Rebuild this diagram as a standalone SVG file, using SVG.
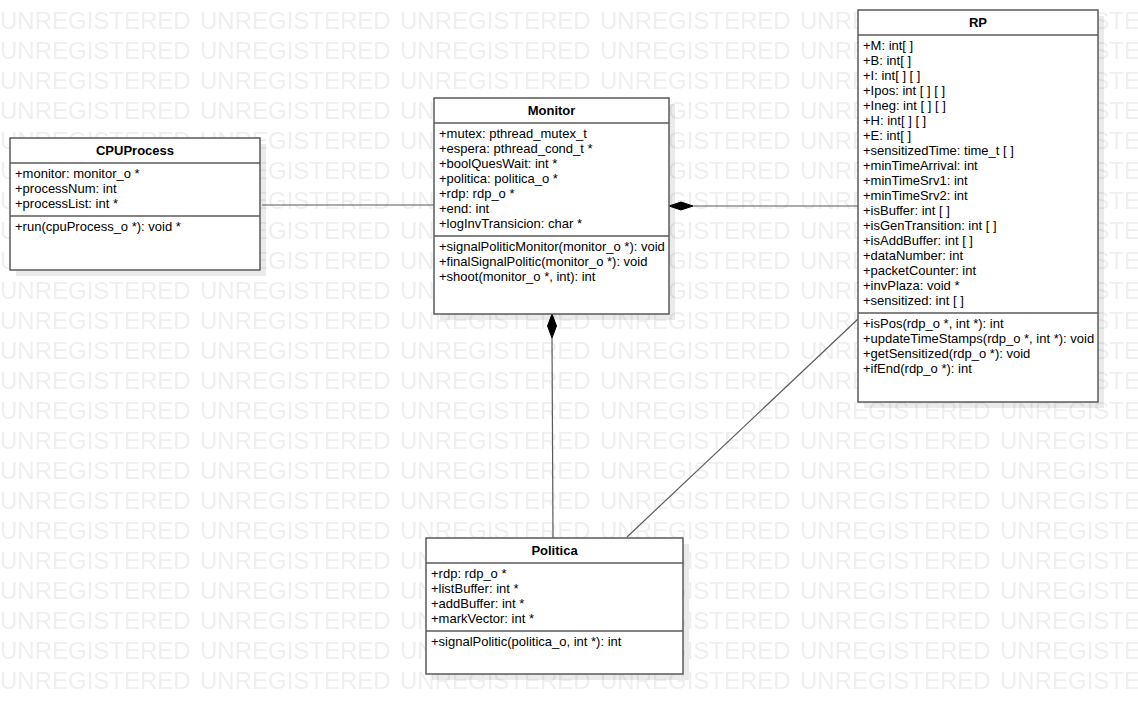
<svg xmlns="http://www.w3.org/2000/svg" width="1138" height="714" viewBox="0 0 1138 714">
<style>
.wm{font-family:"Liberation Sans",Arial,sans-serif;font-size:24px;fill:#efefef}
.t{font-family:"Liberation Sans",Arial,sans-serif;font-size:13px;fill:#000}
.h{font-family:"Liberation Sans",Arial,sans-serif;font-size:13px;font-weight:bold;fill:#000;text-anchor:middle}
.box{fill:#fff;stroke:#5a5a5a;stroke-width:1.5}
.sh{fill:#000;fill-opacity:0.08}
.sep{stroke:#5a5a5a;stroke-width:1.5}
.c{stroke:#5a5a5a;stroke-width:1.2;fill:none}
.d{fill:#000;stroke:#000;stroke-width:1}
</style>
<defs>
<pattern id="wmp" x="0" y="0" width="200" height="30" patternUnits="userSpaceOnUse">
<text class="wm" x="0" y="29">UNREGISTERED</text>
</pattern>
</defs>
<rect width="1138" height="714" fill="#fff"/>
<rect x="0" y="0" width="1138" height="700" fill="url(#wmp)"/>

<g id="connectors">
<line class="c" x1="262" y1="205" x2="434" y2="205"/>
<line class="c" x1="693" y1="206" x2="858" y2="206"/>
<polygon class="d" points="669,206 681,202 693,206 681,210"/>
<line class="c" x1="552" y1="338" x2="553" y2="538"/>
<polygon class="d" points="552,314 556.5,326 552,338 547.5,326"/>
<line class="c" x1="627" y1="537" x2="858" y2="319"/>
</g>

<g id="CPUProcess">
<rect class="sh" x="16" y="144" width="250" height="132"/>
<rect class="box" x="10" y="138" width="250" height="132"/>
<line class="sep" x1="10" y1="163" x2="260" y2="163"/>
<line class="sep" x1="10" y1="216" x2="260" y2="216"/>
<text class="h" x="135" y="155">CPUProcess</text>
<text class="t" x="15" y="178">+monitor: monitor_o *</text>
<text class="t" x="15" y="193">+processNum: int</text>
<text class="t" x="15" y="208">+processList: int *</text>
<text class="t" x="15" y="231">+run(cpuProcess_o *): void *</text>
</g>

<g id="Monitor">
<rect class="sh" x="440" y="104" width="235" height="216"/>
<rect class="box" x="434" y="98" width="235" height="216"/>
<line class="sep" x1="434" y1="123" x2="669" y2="123"/>
<line class="sep" x1="434" y1="236" x2="669" y2="236"/>
<text class="h" x="551.5" y="115">Monitor</text>
<text class="t" x="439" y="138">+mutex: pthread_mutex_t</text>
<text class="t" x="439" y="153">+espera: pthread_cond_t *</text>
<text class="t" x="439" y="168">+boolQuesWait: int *</text>
<text class="t" x="439" y="183">+politica: politica_o *</text>
<text class="t" x="439" y="198">+rdp: rdp_o *</text>
<text class="t" x="439" y="213">+end: int</text>
<text class="t" x="439" y="228">+logInvTransicion: char *</text>
<text class="t" x="439" y="251">+signalPoliticMonitor(monitor_o *): void</text>
<text class="t" x="439" y="266">+finalSignalPolitic(monitor_o *): void</text>
<text class="t" x="439" y="281">+shoot(monitor_o *, int): int</text>
</g>

<g id="RP">
<rect class="sh" x="864" y="16" width="240" height="392"/>
<rect class="box" x="858" y="10" width="240" height="392"/>
<line class="sep" x1="858" y1="35" x2="1098" y2="35"/>
<line class="sep" x1="858" y1="313" x2="1098" y2="313"/>
<text class="h" x="978" y="27">RP</text>
<text class="t" x="863" y="50">+M: int[ ]</text>
<text class="t" x="863" y="65">+B: int[ ]</text>
<text class="t" x="863" y="80">+I: int[ ] [ ]</text>
<text class="t" x="863" y="95">+Ipos: int [ ] [ ]</text>
<text class="t" x="863" y="110">+Ineg: int [ ] [ ]</text>
<text class="t" x="863" y="125">+H: int[ ] [ ]</text>
<text class="t" x="863" y="140">+E: int[ ]</text>
<text class="t" x="863" y="155">+sensitizedTime: time_t [ ]</text>
<text class="t" x="863" y="170">+minTimeArrival: int</text>
<text class="t" x="863" y="185">+minTimeSrv1: int</text>
<text class="t" x="863" y="200">+minTimeSrv2: int</text>
<text class="t" x="863" y="215">+isBuffer: int [ ]</text>
<text class="t" x="863" y="230">+isGenTransition: int [ ]</text>
<text class="t" x="863" y="245">+isAddBuffer: int [ ]</text>
<text class="t" x="863" y="260">+dataNumber: int</text>
<text class="t" x="863" y="275">+packetCounter: int</text>
<text class="t" x="863" y="290">+invPlaza: void *</text>
<text class="t" x="863" y="305">+sensitized: int [ ]</text>
<text class="t" x="863" y="328">+isPos(rdp_o *, int *): int</text>
<text class="t" x="863" y="343">+updateTimeStamps(rdp_o *, int *): void</text>
<text class="t" x="863" y="358">+getSensitized(rdp_o *): void</text>
<text class="t" x="863" y="373">+ifEnd(rdp_o *): int</text>
</g>

<g id="Politica">
<rect class="sh" x="432" y="544" width="257" height="136"/>
<rect class="box" x="426" y="538" width="257" height="136"/>
<line class="sep" x1="426" y1="563" x2="683" y2="563"/>
<line class="sep" x1="426" y1="631" x2="683" y2="631"/>
<text class="h" x="554.5" y="555">Politica</text>
<text class="t" x="431" y="578">+rdp: rdp_o *</text>
<text class="t" x="431" y="593">+listBuffer: int *</text>
<text class="t" x="431" y="608">+addBuffer: int *</text>
<text class="t" x="431" y="623">+markVector: int *</text>
<text class="t" x="431" y="646">+signalPolitic(politica_o, int *): int</text>
</g>
</svg>
